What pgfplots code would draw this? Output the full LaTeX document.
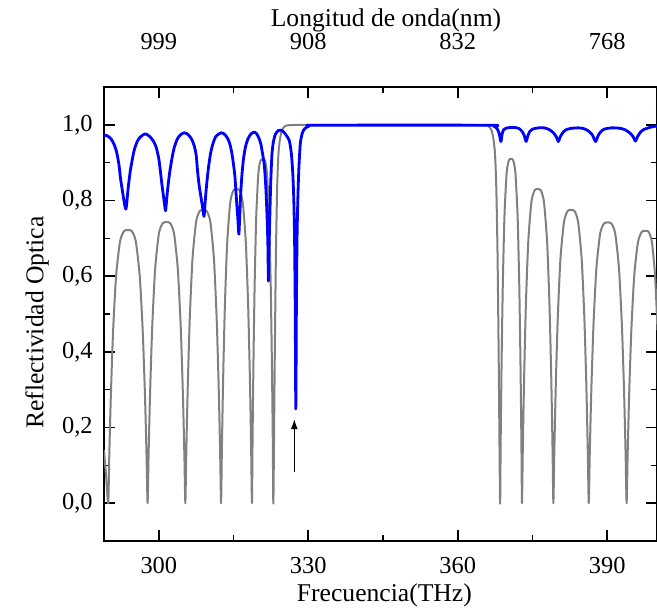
\documentclass[border=0pt]{standalone}
\usepackage{fontspec}
\setmainfont{Liberation Serif}
\usepackage{pgfplots}
\pgfplotsset{compat=1.18}
\usetikzlibrary{arrows.meta}

\pgfplotstableread{
x y
289.0 0.14
289.4 0.075
289.85 0
290.0475 0.118
290.245 0.223
290.4425 0.313
290.8375 0.458
291.43 0.601
292.22 0.692
293.01 0.719
293.8 0.722
294.59 0.719
295.38 0.692
296.17 0.601
296.7625 0.458
297.1575 0.313
297.355 0.223
297.5525 0.118
297.75 0
297.94 0.122
298.129 0.230
298.319 0.322
298.698 0.472
299.266 0.619
300.024 0.713
300.782 0.740
301.54 0.743
302.298 0.740
303.056 0.713
303.814 0.619
304.383 0.472
304.762 0.322
304.951 0.230
305.141 0.122
305.33 0
305.509 0.127
305.689 0.239
305.868 0.336
306.226 0.492
306.764 0.646
307.481 0.743
308.198 0.772
308.915 0.775
309.632 0.772
310.349 0.743
311.066 0.646
311.604 0.492
311.962 0.336
312.142 0.239
312.321 0.127
312.5 0
312.655 0.136
312.81 0.256
312.965 0.360
313.275 0.527
313.74 0.691
314.36 0.796
314.98 0.827
315.6 0.83
316.22 0.827
316.84 0.796
317.46 0.691
317.925 0.527
318.235 0.360
318.39 0.256
318.545 0.136
318.7 0
318.8075 0.149
318.915 0.281
319.0225 0.395
319.2375 0.578
319.56 0.758
319.99 0.873
320.42 0.906
320.85 0.91
321.28 0.906
321.71 0.873
322.14 0.758
322.4625 0.578
322.6775 0.395
322.785 0.281
322.8925 0.149
323.0 0
323.25 0.35
323.5 0.65
323.75 0.83
324.0 0.92
324.3 0.96
324.7 0.985
325.2 0.995
326.0 0.999
330 1.0
340 1.0
350 1.0
360 1.0
365.5 0.999
366.3 0.995
366.8 0.985
367.2 0.96
367.5 0.92
367.75 0.83
368.0 0.65
368.25 0.35
368.5 0
368.61 0.149
368.72 0.281
368.83 0.395
369.05 0.578
369.38 0.758
369.82 0.873
370.26 0.906
370.7 0.91
371.14 0.906
371.58 0.873
372.02 0.758
372.35 0.578
372.57 0.395
372.68 0.281
372.79 0.149
372.9 0
373.0575 0.136
373.215 0.256
373.3725 0.360
373.6875 0.527
374.16 0.691
374.79 0.796
375.42 0.827
376.05 0.83
376.68 0.827
377.31 0.796
377.94 0.691
378.4125 0.527
378.7275 0.360
378.885 0.256
379.0425 0.136
379.2 0
379.3775 0.127
379.555 0.239
379.7325 0.336
380.0875 0.492
380.62 0.646
381.33 0.743
382.04 0.772
382.75 0.775
383.46 0.772
384.17 0.743
384.88 0.646
385.4125 0.492
385.7675 0.336
385.945 0.239
386.1225 0.127
386.3 0
386.49 0.122
386.68 0.229
386.87 0.322
387.25 0.471
387.82 0.618
388.58 0.712
389.34 0.739
390.1 0.742
390.86 0.739
391.62 0.712
392.38 0.618
392.95 0.471
393.33 0.322
393.52 0.229
393.71 0.122
393.9 0
394.09 0.118
394.28 0.222
394.47 0.312
394.85 0.457
395.42 0.600
396.18 0.690
396.94 0.717
397.7 0.72
398.34 0.717
398.98 0.690
399.62 0.600
400.1 0.457
}\graydata

\pgfplotstableread{
x y
289.0 0.972
289.5 0.972
290.0 0.968
290.5 0.961
291.0 0.949
291.5 0.93
292.0 0.895
292.3 0.86
292.7 0.825
293.0 0.80
293.2 0.785
293.4 0.777
293.55 0.79
293.75 0.82
294.0 0.85
294.3 0.88
294.7 0.91
295.1 0.935
295.7 0.957
296.3 0.968
297.2 0.976
297.8 0.973
298.4 0.966
299.0 0.955
299.5 0.94
300.0 0.91
300.3 0.88
300.6 0.845
300.9 0.815
301.15 0.79
301.35 0.773
301.5 0.79
301.7 0.82
301.95 0.85
302.25 0.88
302.65 0.912
303.1 0.94
303.7 0.962
304.3 0.973
305.07 0.979
305.6 0.977
306.1 0.971
306.6 0.962
307.1 0.945
307.5 0.92
307.8 0.875
308.1 0.84
308.45 0.81
308.75 0.785
309.07 0.758
309.25 0.785
309.45 0.82
309.7 0.855
310.0 0.89
310.4 0.925
310.9 0.952
311.5 0.97
312.5 0.979
313.1 0.976
313.7 0.967
314.2 0.952
314.6 0.93
315.0 0.895
315.3 0.86
315.6 0.80
315.85 0.755
316.07 0.711
316.25 0.76
316.45 0.82
316.7 0.87
317.0 0.91
317.4 0.942
317.9 0.963
318.5 0.976
319.2 0.981
319.6 0.977
320.1 0.965
320.5 0.948
320.9 0.918
321.2 0.89
321.5 0.83
321.75 0.75
321.9 0.68
322.0 0.587
322.1 0.66
322.25 0.74
322.45 0.84
322.7 0.92
323.0 0.955
323.4 0.975
324.0 0.985
324.5 0.986
325.0 0.982
325.6 0.972
326.2 0.958
326.6 0.925
326.9 0.87
327.1 0.80
327.25 0.70
327.38 0.52
327.5 0.249
327.62 0.52
327.75 0.70
327.9 0.80
328.1 0.88
328.4 0.95
328.8 0.978
329.3 0.99
330.2 0.997
332 0.999
366 0.999
367.3 0.996
367.9 0.99
368.3 0.978
368.67 0.956
368.9 0.975
369.2 0.987
369.7 0.991
370.5 0.993
371.5 0.993
372.3 0.99
372.9 0.983
373.35 0.972
373.73 0.956
374.1 0.972
374.5 0.983
375.1 0.989
376.2 0.992
377.3 0.992
378.3 0.988
379.2 0.979
379.8 0.968
380.2 0.956
380.6 0.969
381.2 0.981
381.9 0.988
383.0 0.991
384.2 0.992
385.3 0.99
386.2 0.984
387.0 0.974
387.67 0.956
388.2 0.972
388.8 0.983
389.5 0.989
390.9 0.992
392.5 0.991
393.6 0.987
394.5 0.979
395.2 0.969
395.67 0.957
396.1 0.969
396.7 0.981
397.4 0.988
398.5 0.993
399.5 0.996
400 0.997
}\bluedata

\begin{document}
\begin{tikzpicture}
\begin{axis}[
  name=main,
  scale only axis,
  width=276.5bp, height=227bp,
  xmin=289, xmax=400, ymin=-0.1, ymax=1.1,
  tick align=inside,
  xtick={300,330,360,390},
  minor xtick={315,345,375},
  ytick={0,0.2,0.4,0.6,0.8,1.0},
  minor ytick={0.1,0.3,0.5,0.7,0.9},
  xticklabel pos=bottom,
  yticklabel pos=left,
  /pgf/number format/assume math mode=true,
  yticklabel style={/pgf/number format/fixed, /pgf/number format/fixed zerofill, /pgf/number format/precision=1, /pgf/number format/use comma, xshift=-2.2bp},
  tick label style={font=\fontsize{12.2bp}{14bp}\selectfont},
  xticklabel style={anchor=center, inner sep=0pt, yshift=-12.5bp},
  axis line style={line width=1bp},
  every tick/.style={black, line width=0.8bp},
  major tick length=5.5bp, minor tick length=3bp,
  xlabel={Frecuencia(THz)},
  ylabel={Reflectividad Optica},
  every axis x label/.style={at={(axis description cs:0.507,0)}, anchor=center, inner sep=0pt, yshift=-27bp, font=\fontsize{12.8bp}{15bp}\selectfont},
  every axis y label/.style={at={(axis description cs:-0.121,0.481)}, anchor=center, rotate=90, font=\fontsize{12.8bp}{15bp}\selectfont},
]
\addplot[color={rgb,255:red,128;green,128;blue,128}, line width=1bp, line join=round, smooth, tension=0.4] table[x=x,y=y] {\graydata};
\addplot[color={rgb,255:red,0;green,0;blue,255}, line width=1.4bp, line join=round, smooth, tension=0.4] table[x=x,y=y] {\bluedata};
\draw[line width=0.6bp, -{Latex[length=5bp,width=3.5bp]}] (axis cs:327.2,0.083) -- (axis cs:327.2,0.222);
\end{axis}
\begin{axis}[
  scale only axis,
  width=276.5bp, height=227bp,
  xmin=289, xmax=400, ymin=-0.1, ymax=1.1,
  axis x line*=top,
  axis y line=none,
  axis line style={line width=1bp},
  xtick={300,330,360,390},
  xticklabels={999,908,832,768},
  major tick length=0pt,
  tick label style={font=\fontsize{12.2bp}{14bp}\selectfont},
  xticklabel style={anchor=center, yshift=22.5bp},
  xlabel={Longitud de onda(nm)},
  every axis x label/.style={at={(axis description cs:0.51,1)}, anchor=center, yshift=33.5bp, font=\fontsize{12.8bp}{15bp}\selectfont},
]
\end{axis}
\pgfresetboundingbox
\useasboundingbox ([xshift=-52bp,yshift=-34.5bp]main.south west) rectangle ([yshift=43.5bp]main.north east);
\end{tikzpicture}
\end{document}
